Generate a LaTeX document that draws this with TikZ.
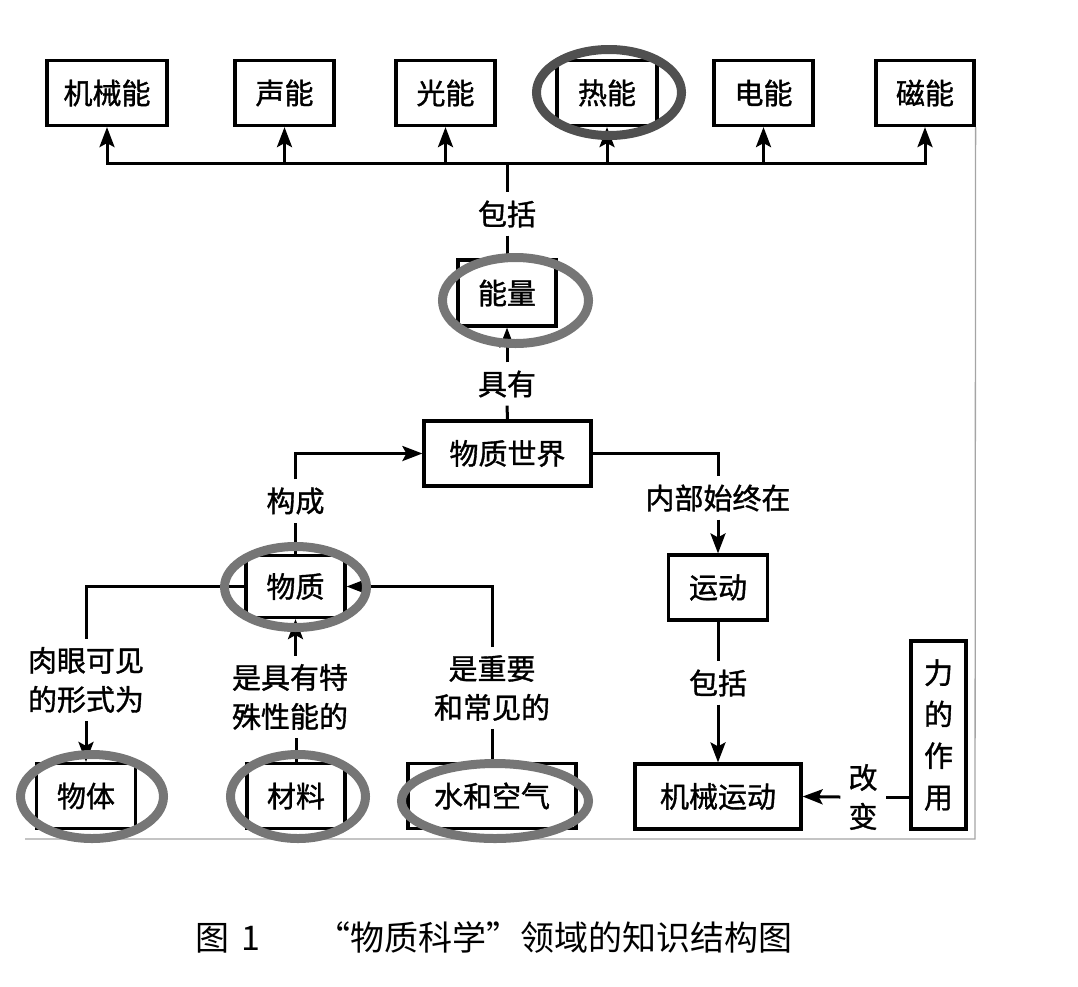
\documentclass[tikz,border=0pt]{standalone}
\usepackage{fontspec}
\newfontfamily\cjk{Noto Sans CJK SC}[FakeBold=1.2]
\newfontfamily\capfont{Noto Sans CJK SC}
\usetikzlibrary{arrows.meta}
\definecolor{ringgray}{RGB}{118,118,118}
\definecolor{ringdark}{RGB}{80,80,80}
\definecolor{framegray}{RGB}{165,165,165}
\tikzset{
  box/.style={draw, line width=3.2pt, inner sep=0pt, align=center, font=\cjk\fontsize{29}{36}\selectfont},
  lbl/.style={inner xsep=4pt, inner ysep=8pt, align=center, font=\cjk\fontsize{29}{39}\selectfont},
  conn/.style={line width=3pt},
  tip/.tip={Stealth[length=20pt,width=15pt,inset=4pt]},
  arr/.style={conn, -tip},
  ring/.style={draw=ringgray, line width=9pt},
  ringd/.style={draw=ringdark, line width=9pt},
  frameline/.style={draw=framegray, line width=1.3pt},
}
\begin{document}
\begin{tikzpicture}[x=1pt,y=-1pt]
\useasboundingbox (0,0) rectangle (1078,986);
% frame
\coordinate (fbr) at (975,839);
\coordinate (fbl) at (25,839);
% top row
\node[box, minimum width=120pt, minimum height=65pt] (jx) at (107,93) {机械能};
\node[box, minimum width=99pt, minimum height=65pt] (sn) at (284.5,93) {声能};
\node[box, minimum width=99pt, minimum height=65pt] (gn) at (445.5,93) {光能};
\node[box, minimum width=100pt, minimum height=65pt] (rn) at (607,93) {热能};
\node[box, minimum width=99pt, minimum height=65pt] (dn) at (763.5,93) {电能};
\node[box, minimum width=98pt, minimum height=65pt] (cn) at (925,93) {磁能};
\draw[frameline] (cn.south east) -- (fbr) -- (fbl);
\coordinate (bus) at (507,163);
\node[lbl] (l1) at (507,214) {包括};
\node[box, minimum width=98pt, minimum height=66pt] (nl) at (507,293) {能量};
\node[lbl] (l2) at (507,384) {具有};
\node[box, minimum width=167pt, minimum height=65pt] (sj) at (507.5,453.5) {物质世界};
\node[lbl] (l3) at (295.5,501) {构成};
\node[box, minimum width=99pt, minimum height=62pt] (wz) at (295.5,586.5) {物质};
\node[lbl] (l4) at (86,680) {肉眼可见\\的形式为};
\node[lbl] (l5) at (290,697) {是具有特\\殊性能的};
\node[lbl] (l6) at (492,688) {是重要\\和常见的};
\node[box, minimum width=99pt, minimum height=65pt] (wt) at (86,796) {物体};
\node[box, minimum width=98pt, minimum height=65pt] (cl) at (296,796) {材料};
\node[box, minimum width=168pt, minimum height=65pt] (sk) at (492,796) {水和空气};
\node[lbl] (l7) at (718,498) {内部始终在};
\node[box, minimum width=99pt, minimum height=65pt] (yd) at (718,587.5) {运动};
\node[lbl] (l8) at (718,683) {包括};
\node[box, minimum width=166pt, minimum height=65pt] (jy) at (718,796.5) {机械运动};
\node[box, minimum width=55pt, minimum height=188pt, font=\cjk\fontsize{29}{41.5}\selectfont] (lz) at (938.5,735) {力\\的\\作\\用};
\node[lbl, inner xsep=8pt] (gb) at (863,797) {改\\变};
% connectors top
\draw[conn, tip-tip] (jx.south) -- (jx.south |- bus) -- (cn.south |- bus) -- (cn.south);
\foreach \n in {sn,gn,rn,dn} \draw[arr] (\n.south |- bus) -- (\n.south);
\draw[conn] (bus) -- (l1.north);
\draw[conn] (l1.south) -- (nl.north);
\draw[arr] (l2.north) -- (nl.south);
\draw[conn] (l2.south) -- (sj.north);
\draw[arr] (l3.north) |- (sj.west);
\draw[conn] (wz.north) -- (l3.south);
\draw[conn] (sj.east) -| (l7.north);
\draw[arr] (l7.south) -- (yd.north);
\draw[conn] (yd.south) -- (l8.north);
\draw[arr] (l8.south) -- (jy.north);
\draw[conn] (lz.west |- gb) -- (gb.east);
\draw[arr] (gb.west) -- (jy.east);
\draw[conn] (wz.west) -| (l4.north);
\draw[arr] (l4.south) -- (wt.north);
\draw[arr] (wz.south |- l5.north) -- (wz.south);
\draw[conn] (cl.north) -- (cl.north |- l5.south);
\draw[arr] (l6.north) |- (wz.east);
\draw[conn] (l6.south) -- (sk.north);
% rings
\draw[ringd] (609,92.5) ellipse [x radius=72.5, y radius=43];
\draw[ring] (515.5,300.5) ellipse [x radius=73, y radius=43];
\draw[ring] (295.5,587) ellipse [x radius=71, y radius=40.5];
\draw[ring] (92,796.5) ellipse [x radius=71.5, y radius=42];
\draw[ring] (298,796.5) ellipse [x radius=67.5, y radius=42];
\draw[ring] (495,801) ellipse [x radius=93.5, y radius=37.5];
% caption
\node[anchor=west, inner sep=0pt, font=\capfont\fontsize{34}{40}\selectfont] (cap) at (195,937) {图\hspace{12pt}1\hspace{56pt}“物质科学”领域的知识结构图};
\end{tikzpicture}
\end{document}
